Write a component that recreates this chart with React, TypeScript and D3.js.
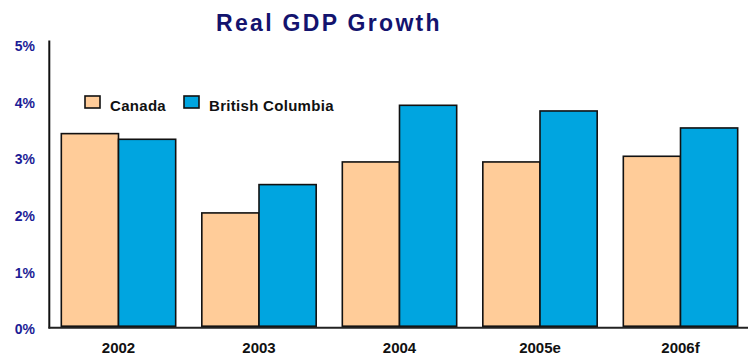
import React from "react";
import * as d3 from "d3";

const categories = ["2002", "2003", "2004", "2005e", "2006f"];
const seriesNames = ["Canada", "British Columbia"];
const canadaValues = [3.4, 2.0, 2.9, 2.9, 3.0];
const bcValues = [3.3, 2.5, 3.9, 3.8, 3.5];
const yTicks = [0, 1, 2, 3, 4, 5];
const colors = ["#FFCC99", "#00A5E0"];

const W = 748;
const H = 356;

export default function App() {
  const x = d3
    .scaleBand<string>()
    .domain(categories)
    .range([48.25, 750.75])
    .paddingInner(0.186)
    .paddingOuter(0.093);
  const inner = d3.scaleBand<number>().domain([0, 1]).range([0, x.bandwidth()]);
  const y = d3.scaleLinear().domain([0, 5]).range([326.2, 43]);
  const series = [canadaValues, bcValues];

  return (
    <div style={{ position: "absolute", left: 0, top: 0 }}>
      <svg width={W} height={H} style={{ display: "block" }}>
        <rect x={0} y={0} width={W} height={H} fill="#fff" />
        <text
          x={329}
          y={30.5}
          textAnchor="middle"
          fontFamily="Liberation Sans, Arial, sans-serif"
          fontWeight="bold"
          fontSize={23}
          letterSpacing={2.3}
          fill="#13136e"
        >
          Real GDP Growth
        </text>
        {yTicks.map((t) => (
          <text
            key={t}
            x={35}
            y={y(t) + 8}
            textAnchor="end"
            fontFamily="Liberation Sans, Arial, sans-serif"
            fontWeight="bold"
            fontSize={14}
            fill="#1c1c96"
          >
            {t}%
          </text>
        ))}
        {categories.map((c, i) =>
          series.map((vals, s) => (
            <rect
              key={c + s}
              x={(x(c) as number) + (inner(s) as number)}
              y={y(vals[i])}
              width={inner.bandwidth()}
              height={y(0) - y(vals[i])}
              fill={colors[s]}
              stroke="#111"
              strokeWidth={1.6}
            />
          ))
        )}
        <line x1={49.3} x2={49.3} y1={40.5} y2={328.5} stroke="#111" strokeWidth={2} />
        <line x1={48.5} x2={W} y1={327.7} y2={327.7} stroke="#222" strokeWidth={2} />
        {categories.map((c) => (
          <text
            key={c}
            x={(x(c) as number) + x.bandwidth() / 2}
            y={353}
            textAnchor="middle"
            fontFamily="Liberation Sans, Arial, sans-serif"
            fontWeight="bold"
            fontSize={15}
            fill="#111"
          >
            {c}
          </text>
        ))}
        {seriesNames.map((n, s) => {
          const lx = s === 0 ? 85 : 184;
          return (
            <g key={n}>
              <rect x={lx} y={96} width={15} height={12} fill={colors[s]} stroke="#111" strokeWidth={1.6} />
              <text
                x={lx + 25}
                y={111}
                fontFamily="Liberation Sans, Arial, sans-serif"
                fontWeight="bold"
                fontSize={15}
                letterSpacing={0.3}
                fill="#111"
              >
                {n}
              </text>
            </g>
          );
        })}
      </svg>
    </div>
  );
}
